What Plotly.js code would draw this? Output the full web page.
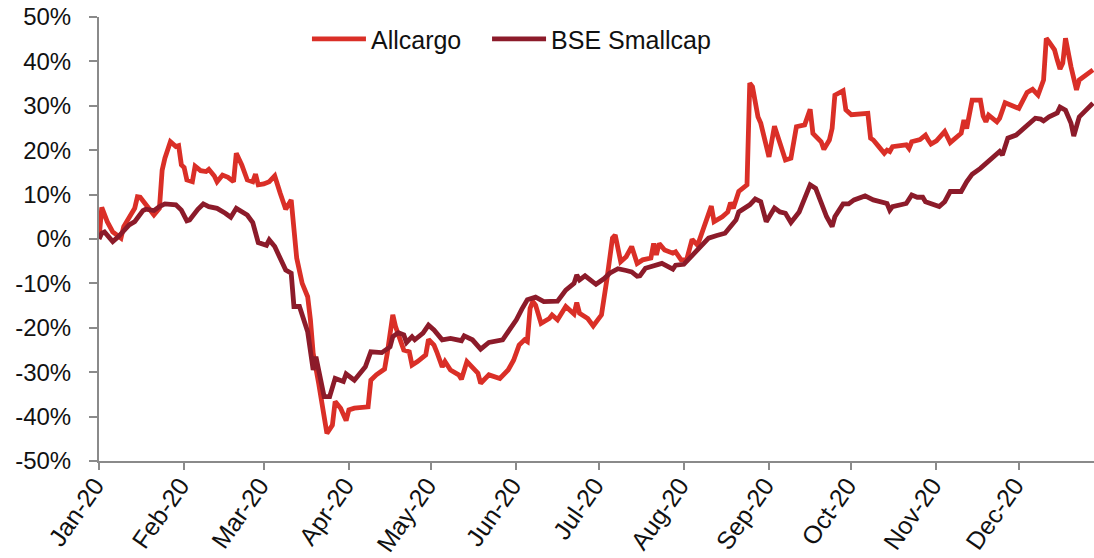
<!DOCTYPE html>
<html>
<head>
<meta charset="utf-8">
<script src="https://cdn.plot.ly/plotly-3.0.1.min.js"></script>
<style>
html,body{margin:0;padding:0;background:#fff;}
#chart{width:1094px;height:558px;}
</style>
</head>
<body>
<div id="chart"></div>
<script>
// Allcargo relative performance (%)
const allcargoDates = [
"2020-01-01","2020-01-02","2020-01-04","2020-01-06","2020-01-09","2020-01-10","2020-01-14","2020-01-15","2020-01-16","2020-01-18",
"2020-01-21","2020-01-23","2020-01-24","2020-01-25","2020-01-27","2020-01-29","2020-01-30","2020-01-31","2020-02-01","2020-02-02",
"2020-02-04","2020-02-05","2020-02-07","2020-02-09","2020-02-10","2020-02-12","2020-02-13","2020-02-15","2020-02-17","2020-02-19",
"2020-02-20","2020-02-22","2020-02-24","2020-02-26","2020-02-27","2020-02-28","2020-03-01","2020-03-03","2020-03-05","2020-03-07",
"2020-03-09","2020-03-11","2020-03-12","2020-03-13","2020-03-15","2020-03-17","2020-03-18","2020-03-19","2020-03-21","2020-03-23",
"2020-03-24","2020-03-26","2020-03-27","2020-03-29","2020-03-31","2020-04-01","2020-04-03","2020-04-08","2020-04-09","2020-04-11",
"2020-04-14","2020-04-15","2020-04-17","2020-04-18","2020-04-21","2020-04-23","2020-04-24","2020-04-26","2020-04-29","2020-04-30",
"2020-05-02","2020-05-03","2020-05-05","2020-05-06","2020-05-08","2020-05-11","2020-05-12","2020-05-14","2020-05-16","2020-05-18",
"2020-05-19","2020-05-22","2020-05-26","2020-05-29","2020-05-31","2020-06-02","2020-06-04","2020-06-05","2020-06-06","2020-06-07",
"2020-06-08","2020-06-10","2020-06-13","2020-06-14","2020-06-16","2020-06-19","2020-06-22","2020-06-23","2020-06-24","2020-06-27",
"2020-06-29","2020-07-02","2020-07-04","2020-07-06","2020-07-07","2020-07-09","2020-07-11","2020-07-13","2020-07-15","2020-07-17",
"2020-07-20","2020-07-21","2020-07-22","2020-07-23","2020-07-25","2020-07-28","2020-07-29","2020-07-31","2020-08-02","2020-08-04",
"2020-08-06","2020-08-08","2020-08-10","2020-08-11","2020-08-12","2020-08-15","2020-08-17","2020-08-18","2020-08-19","2020-08-21",
"2020-08-24","2020-08-25","2020-08-26","2020-08-28","2020-08-29","2020-08-31","2020-09-01","2020-09-03","2020-09-05","2020-09-07",
"2020-09-09","2020-09-11","2020-09-14","2020-09-16","2020-09-17","2020-09-20","2020-09-21","2020-09-23","2020-09-24","2020-09-25",
"2020-09-28","2020-09-29","2020-10-01","2020-10-07","2020-10-08","2020-10-09","2020-10-11","2020-10-13","2020-10-14","2020-10-15",
"2020-10-16","2020-10-21","2020-10-22","2020-10-23","2020-10-26","2020-10-28","2020-10-29","2020-10-30","2020-11-01","2020-11-04",
"2020-11-06","2020-11-09","2020-11-10","2020-11-11","2020-11-12","2020-11-14","2020-11-17","2020-11-18","2020-11-19","2020-11-20",
"2020-11-23","2020-11-24","2020-11-26","2020-12-01","2020-12-04","2020-12-06","2020-12-08","2020-12-10","2020-12-11","2020-12-12",
"2020-12-14","2020-12-15","2020-12-16","2020-12-17","2020-12-18","2020-12-20","2020-12-22","2020-12-23","2020-12-24","2020-12-26",
"2020-12-28"
];
const allcargoValues = [
0.0,7.1,3.9,1.6,0.2,2.8,6.9,9.5,9.4,7.7,
5.4,6.9,15.5,18.2,21.9,20.8,21.0,16.7,16.1,13.3,
12.9,16.4,15.4,15.2,15.7,14.2,12.9,14.4,13.9,12.9,
19.3,16.7,13.3,12.9,14.6,12.2,12.4,12.9,14.2,10.3,
6.7,8.8,2.0,-4.3,-10.0,-13.0,-18.2,-25.7,-32.5,-40.0,
-43.8,-41.9,-36.6,-38.1,-40.9,-38.5,-38.1,-37.8,-31.8,-30.6,
-29.3,-25.7,-17.1,-19.7,-25.0,-25.4,-28.4,-27.6,-26.1,-22.6,
-23.9,-25.4,-28.8,-27.6,-29.5,-30.6,-31.6,-27.6,-29.1,-30.2,
-32.5,-30.6,-31.4,-29.5,-27.3,-23.9,-22.7,-23.1,-15.6,-14.1,
-14.9,-19.0,-17.9,-17.1,-18.2,-15.2,-16.9,-14.3,-16.7,-17.9,
-19.6,-17.1,-9.0,0.2,0.9,-5.1,-4.0,-1.7,-5.5,-4.7,
-4.3,-1.0,-3.6,-1.0,-2.5,-3.2,-2.9,-4.7,-4.7,-0.1,
-1.4,2.4,5.4,7.4,3.9,5.0,6.1,8.2,6.9,10.7,
12.2,35.1,34.3,27.5,26.1,20.5,18.5,25.4,21.2,17.8,
18.2,25.3,25.7,29.2,23.8,21.9,20.2,22.3,24.9,32.4,
33.4,29.1,28.0,28.3,22.7,22.3,20.8,19.3,20.0,19.7,
20.8,21.2,20.4,21.9,22.4,23.4,22.3,21.4,22.1,24.2,
21.7,23.4,23.8,26.8,24.9,31.3,31.3,27.7,26.4,27.9,
26.4,27.2,30.7,29.4,33.0,33.7,32.4,35.8,45.2,44.4,
42.6,40.3,38.3,39.6,45.2,38.8,33.6,35.8,36.2,37.2,
38.1
];

// BSE Smallcap relative performance (%)
const bseDates = [
"2020-01-01","2020-01-02","2020-01-03","2020-01-06","2020-01-08","2020-01-10","2020-01-12","2020-01-14","2020-01-17","2020-01-18",
"2020-01-21","2020-01-23","2020-01-25","2020-01-29","2020-01-31","2020-02-02","2020-02-03","2020-02-06","2020-02-08","2020-02-10",
"2020-02-13","2020-02-16","2020-02-18","2020-02-20","2020-02-24","2020-02-26","2020-02-28","2020-03-02","2020-03-03","2020-03-05",
"2020-03-09","2020-03-11","2020-03-12","2020-03-14","2020-03-17","2020-03-19","2020-03-20","2020-03-23","2020-03-25","2020-03-27",
"2020-03-30","2020-03-31","2020-04-03","2020-04-07","2020-04-09","2020-04-13","2020-04-16","2020-04-17","2020-04-19","2020-04-21",
"2020-04-22","2020-04-24","2020-04-25","2020-04-28","2020-04-30","2020-05-02","2020-05-04","2020-05-05","2020-05-08","2020-05-12",
"2020-05-13","2020-05-16","2020-05-19","2020-05-22","2020-05-27","2020-05-30","2020-06-01","2020-06-03","2020-06-05","2020-06-08",
"2020-06-10","2020-06-11","2020-06-16","2020-06-19","2020-06-22","2020-06-23","2020-06-24","2020-06-26","2020-06-30","2020-07-03",
"2020-07-05","2020-07-08","2020-07-11","2020-07-13","2020-07-15","2020-07-16","2020-07-18","2020-07-22","2020-07-24","2020-07-28",
"2020-07-29","2020-08-01","2020-08-03","2020-08-07","2020-08-10","2020-08-13","2020-08-16","2020-08-18","2020-08-20","2020-08-21",
"2020-08-23","2020-08-25","2020-08-27","2020-08-29","2020-08-31","2020-09-02","2020-09-03","2020-09-05","2020-09-07","2020-09-09",
"2020-09-12","2020-09-16","2020-09-18","2020-09-22","2020-09-24","2020-09-25","2020-09-28","2020-09-30","2020-10-02","2020-10-06",
"2020-10-09","2020-10-14","2020-10-15","2020-10-16","2020-10-21","2020-10-23","2020-10-25","2020-10-27","2020-10-28","2020-11-02",
"2020-11-04","2020-11-06","2020-11-10","2020-11-12","2020-11-14","2020-11-17","2020-11-19","2020-11-22","2020-11-24","2020-11-25",
"2020-11-27","2020-11-30","2020-12-04","2020-12-07","2020-12-09","2020-12-10","2020-12-12","2020-12-15","2020-12-16","2020-12-18",
"2020-12-20","2020-12-21","2020-12-23","2020-12-25","2020-12-28"
];
const bseValues = [
0.0,1.3,1.6,-0.6,0.5,2.0,3.2,3.9,6.4,6.7,
6.4,7.3,7.9,7.7,6.5,4.1,4.3,6.7,7.9,7.3,
6.9,5.8,4.9,6.9,5.4,3.7,-0.8,-1.4,-0.2,-1.7,
-7.0,-7.7,-15.2,-15.2,-20.9,-29.5,-26.5,-35.5,-35.5,-31.4,
-32.1,-30.4,-31.8,-28.8,-25.4,-25.6,-24.3,-22.0,-21.1,-21.6,
-23.3,-22.0,-22.7,-21.2,-19.4,-20.5,-22.0,-22.7,-22.4,-22.9,
-21.8,-22.7,-24.8,-23.3,-22.7,-20.1,-18.2,-15.8,-13.7,-13.1,
-13.7,-14.1,-14.0,-11.5,-10.0,-8.1,-9.2,-8.3,-10.2,-8.9,
-7.7,-6.7,-7.1,-7.4,-8.4,-8.3,-6.6,-5.9,-5.5,-6.8,
-5.9,-5.7,-4.3,-1.6,0.2,0.8,1.3,2.8,4.3,6.1,
6.9,7.7,9.0,8.4,3.9,6.1,7.0,6.1,5.8,3.7,
6.1,12.2,11.4,5.0,2.8,5.0,7.9,7.9,8.8,9.7,
8.8,8.0,6.5,7.3,8.0,9.9,9.4,9.4,8.4,7.3,
8.4,10.7,10.7,12.9,14.6,15.9,17.0,18.5,19.7,18.9,
22.7,23.4,25.7,27.2,27.0,26.6,27.5,28.4,29.7,29.0,
26.1,23.2,27.5,28.7,30.6
];

const seriesNames = ["Allcargo", "BSE Smallcap"];
const seriesColors = ["#DA2F27", "#8C1B2A"];
const yTickVals = [-50,-40,-30,-20,-10,0,10,20,30,40,50];
const yTickText = ["-50%","-40%","-30%","-20%","-10%","0%","10%","20%","30%","40%","50%"];
const xRange = ["2020-01-01", "2020-12-28 09:00"];

const font = "'Liberation Sans', Arial, sans-serif";
const axisGray = "#8A8A8A";

const traces = [
  {x: allcargoDates, y: allcargoValues, name: seriesNames[0], type: "scatter", mode: "lines",
   line: {color: seriesColors[0], width: 4.8}, legend: "legend"},
  {x: bseDates, y: bseValues, name: seriesNames[1], type: "scatter", mode: "lines",
   line: {color: seriesColors[1], width: 4.8}, legend: "legend2"}
];

const legendStyle = {orientation: "h", y: 0.95, xanchor: "left", yanchor: "middle",
  font: {family: font, size: 25, color: "#111"}, itemwidth: 54, bgcolor: "rgba(0,0,0,0)",
  itemclick: false};

const layout = {
  width: 1094, height: 558,
  margin: {l: 99, r: 0, t: 17, b: 97, pad: 0},
  paper_bgcolor: "#fff", plot_bgcolor: "#fff",
  font: {family: font, size: 24, color: "#111"},
  showlegend: true,
  legend: Object.assign({}, legendStyle, {x: 0.209}),
  legend2: Object.assign({}, legendStyle, {x: 0.39}),
  xaxis: {type: "date", range: xRange, autorange: false, dtick: "M1", tick0: "2020-01-01",
          tickformat: "%b-%y", tickangle: -55, ticks: "outside", ticklen: 7, tickwidth: 2,
          tickcolor: axisGray, showline: true, linecolor: axisGray, linewidth: 2,
          showgrid: false, zeroline: false, automargin: false,
          ticklabelstandoff: -9, ticklabelshift: -4,
          tickfont: {family: font, size: 25, color: "#111"}},
  yaxis: {range: [-50, 50], autorange: false, tickvals: yTickVals, ticktext: yTickText,
          ticks: "outside", ticklen: 8, tickwidth: 2, tickcolor: axisGray,
          showline: true, linecolor: axisGray, linewidth: 2, showgrid: false, zeroline: false,
          automargin: false, ticklabelstandoff: 13,
          tickfont: {family: font, size: 24, color: "#111"}}
};

Plotly.newPlot("chart", traces, layout, {staticPlot: true, displayModeBar: false});
</script>
</body>
</html>
